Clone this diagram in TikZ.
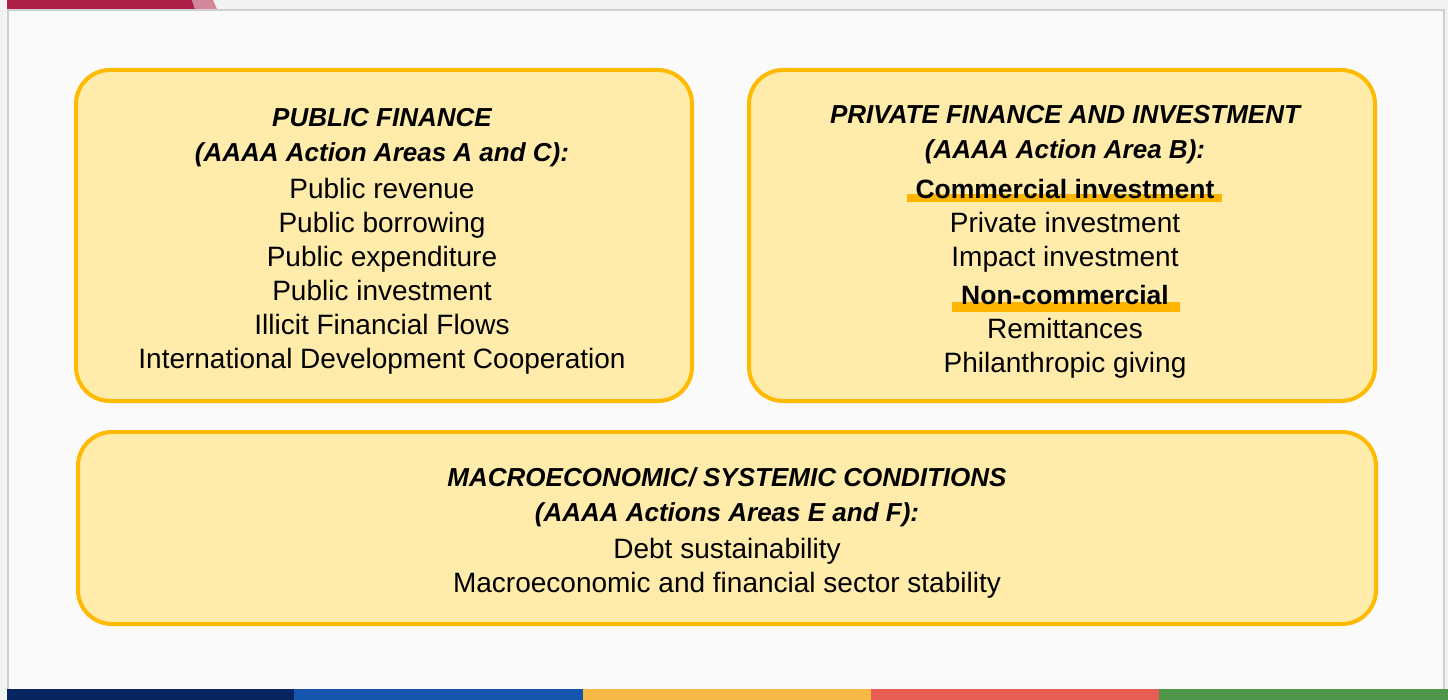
\documentclass[tikz,border=0pt]{standalone}
\usepackage{fontspec}
\setmainfont{Liberation Sans}
\definecolor{pagebg}{HTML}{F2F2F2}
\definecolor{slidebg}{HTML}{FAFAFA}
\definecolor{slideline}{HTML}{CFCFD3}
\definecolor{crimson}{HTML}{B01F48}
\definecolor{pinkbar}{HTML}{D4879B}
\definecolor{boxline}{HTML}{FFB900}
\definecolor{boxfill}{HTML}{FFECAA}
\definecolor{hilite}{HTML}{FFB400}
\definecolor{navy}{HTML}{072561}
\definecolor{ublue}{HTML}{1455AE}
\definecolor{uyellow}{HTML}{F8B944}
\definecolor{ured}{HTML}{E85E55}
\definecolor{ugreen}{HTML}{50964A}
\begin{document}
\begin{tikzpicture}[x=1pt,y=-1pt,
  panel/.style={draw=boxline, fill=boxfill, line width=4pt, rounded corners=34pt, inner sep=0pt},
  txt/.style={anchor=base, inner sep=0pt, font=\fontsize{28}{32}\selectfont},
  head/.style={txt, font=\fontsize{26}{32}\selectfont\bfseries\itshape},
  sub/.style={txt, font=\fontsize{26.5}{32}\selectfont\bfseries},
  hibar/.style={fill=hilite}
]
\useasboundingbox (0,0) rectangle (1448,700);
% page and slide
\fill[pagebg] (0,0) rectangle (1448,700);
\draw[fill=slidebg, draw=slideline, line width=1.2pt] (8,10) rectangle (1444,700);
% top accent
\fill[crimson] (7,0) -- (192,0) -- (195,9) -- (7,9) -- cycle;
\fill[pinkbar] (192,0) -- (213,0) -- (217,9) -- (195,9) -- cycle;
% bottom strip
\fill[navy] (7,689) rectangle (294,700);
\fill[ublue] (294,689) rectangle (583,700);
\fill[uyellow] (583,689) rectangle (871,700);
\fill[ured] (871,689) rectangle (1159,700);
\fill[ugreen] (1159,689) rectangle (1448,700);

% panels
\node[panel, minimum width=616pt, minimum height=331pt] (pub) at (384,235.5) {};
\node[panel, minimum width=626pt, minimum height=331pt] (priv) at (1062,235.5) {};
\node[panel, minimum width=1298pt, minimum height=192pt] (macro) at (727,528) {};

% highlights
\fill[hibar] (907,194) rectangle (1222,202);
\fill[hibar] (952,302) rectangle (1180,312);

% public finance
\node[head] (p1) at (382,127) {PUBLIC FINANCE};
\node[head] (p2) at (382,162) {(AAAA Action Areas A and C):};
\node[txt] (p3) at (382,198.5) {Public revenue};
\node[txt] (p4) at (382,232.5) {Public borrowing};
\node[txt] (p5) at (382,266.5) {Public expenditure};
\node[txt] (p6) at (382,300.5) {Public investment};
\node[txt] (p7) at (382,334.5) {Illicit Financial Flows};
\node[txt] (p8) at (382,368.5) {International Development Cooperation};

% private finance
\node[head] (q1) at (1065,124) {PRIVATE FINANCE AND INVESTMENT};
\node[head] (q2) at (1065,159) {(AAAA Action Area B):};
\node[sub] (q3) at (1065,199) {Commercial investment};
\node[txt] (q4) at (1065,232.5) {Private investment};
\node[txt] (q5) at (1065,266.5) {Impact investment};
\node[sub] (q6) at (1065,305) {Non-commercial};
\node[txt] (q7) at (1065,338.5) {Remittances};
\node[txt] (q8) at (1065,372.5) {Philanthropic giving};

% macro
\node[head] (m1) at (727,486) {MACROECONOMIC/ SYSTEMIC CONDITIONS};
\node[head] (m2) at (727,521) {(AAAA Actions Areas E and F):};
\node[txt] (m3) at (727,558.5) {Debt sustainability};
\node[txt] (m4) at (727,592.5) {Macroeconomic and financial sector stability};
\end{tikzpicture}
\end{document}
